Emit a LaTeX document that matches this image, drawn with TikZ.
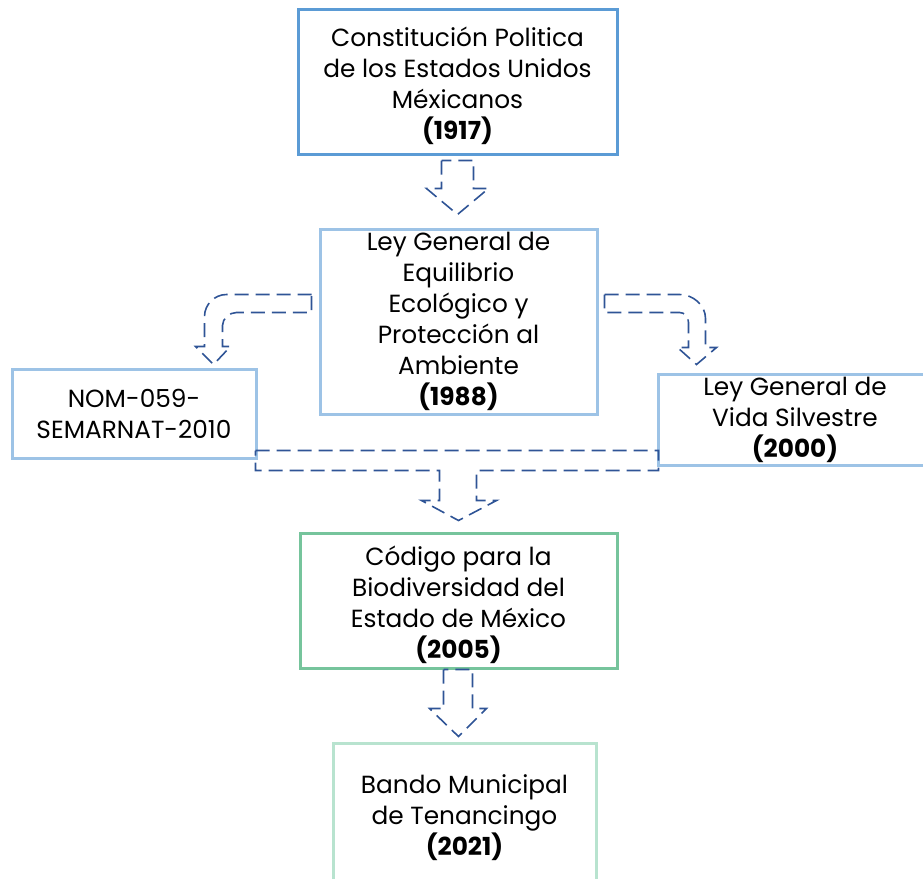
\documentclass[tikz,border=0pt]{standalone}
\usepackage{fontspec}
\setmainfont{Poppins}
\usepackage{tikz}
\usetikzlibrary{calc}
\definecolor{deepblue}{RGB}{91,155,213}
\definecolor{softblue}{RGB}{157,195,230}
\definecolor{midgreen}{RGB}{118,196,156}
\definecolor{palegreen}{RGB}{184,227,207}
\definecolor{arrowblue}{RGB}{47,84,150}
\tikzset{
    lawbox/.style = {rectangle, line width=3pt, align=center, inner sep=0pt, font=\fontsize{24.8}{31}\selectfont},
    toplaw/.style = {lawbox, draw=deepblue},
    bluelaw/.style = {lawbox, draw=softblue},
    greenlaw/.style = {lawbox, draw=midgreen},
    palelaw/.style = {lawbox, draw=palegreen},
    hollow/.style = {draw=arrowblue, line width=1.6pt, dash pattern=on 14pt off 7pt, line join=miter}
}
\newcommand{\toplift}{\rule{0pt}{29pt}}
\begin{document}
\begin{tikzpicture}[x=1pt,y=-1pt]
\useasboundingbox (0,0) rectangle (923,878);
\node (cpeum) [toplaw, minimum width=319pt, minimum height=145pt] at (457.5,81.5) {\toplift Constitución Politica\\de los Estados Unidos\\Méxicanos\\\textbf{(1917)}};
\node (lgeepa) [bluelaw, minimum width=277pt, minimum height=185pt] at (458.5,321.5) {Ley General de\\Equilibrio\\Ecológico y\\Protección al\\Ambiente\\\textbf{(1988)}};
\node (nom) [bluelaw, minimum width=244pt, minimum height=89pt] at (134,413.5) {NOM-059-\\SEMARNAT-2010};
\node (lgvs) [bluelaw, minimum width=274pt, minimum height=91pt] at (795,419.5) {Ley General de\\Vida Silvestre\\\textbf{(2000)}};
\node (cbem) [greenlaw, minimum width=317pt, minimum height=135pt] at (458.5,600.5) {\toplift Código para la\\Biodiversidad del\\Estado de México\\\textbf{(2005)}};
\node (bmt) [palelaw, minimum width=263pt, minimum height=140pt] at (464.5,813) {\toplift Bando Municipal\\de Tenancingo\\\textbf{(2021)}};

% hollow arrows
\draw [hollow, shift={(cpeum.south)}] (-16,5) -- (-16,33) -- (-31,33) -- (0,59) -- (31,33) -- (16,33) -- (16,5) -- cycle;
\draw [hollow, shift={(lgeepa.west)}] (-7,-27) -- (-92,-27) .. controls (-104,-27) and (-114,-17) .. (-114,-5) -- (-114,25) -- (-123,25) -- (-105,43) -- (-88,25) -- (-96,25) -- (-96,4) .. controls (-96,-3) and (-89,-9) .. (-82,-9) -- (-7,-9) -- cycle;
\draw [hollow, shift={(lgeepa.east)}] (6,-27) -- (81,-27) .. controls (95,-27) and (107,-16) .. (107,-3) -- (107,26) -- (118,26) -- (98,43) -- (79,26) -- (90,26) -- (90,1) .. controls (90,-5) and (86,-9) .. (81,-9) -- (6,-9) -- cycle;
\draw [hollow, shift={(cbem.north)}] (-203,-81) -- (200,-81) -- (200,-61) -- (18,-61) -- (18,-31) -- (38,-31) -- (0,-11) -- (-37,-31) -- (-19,-31) -- (-19,-61) -- (-203,-61) -- cycle;
\draw [hollow, shift={(cbem.south)}] (-15,0) -- (-15,39) -- (-29,39) -- (0,67) -- (28,39) -- (14,39) -- (14,0) -- cycle;
\end{tikzpicture}
\end{document}
